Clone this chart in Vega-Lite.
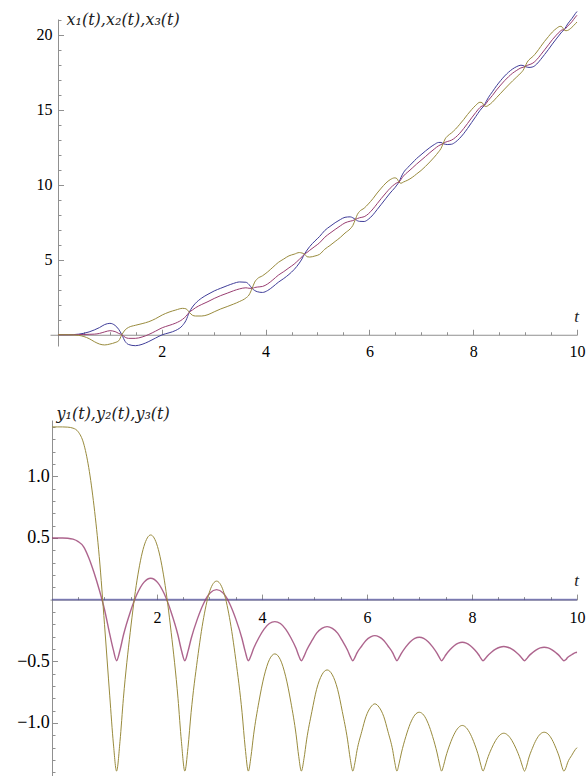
{
  "$schema": "https://vega.github.io/schema/vega-lite/v6.json",
  "background": "white",
  "padding": {"left": 16, "top": 8, "right": 5, "bottom": 0},
  "autosize": {"type": "pad"},
  "bounds": "flush",
  "spacing": 74,
  "config": {"view": {"stroke": null}, "axis": {"grid": false}},
  "resolve": {"scale": {"x": "independent", "y": "independent", "color": "independent", "strokeWidth": "independent", "opacity": "independent"}},
  "datasets": {
    "d": [
      {"t": 0, "x1": 0, "x2": 0, "x3": 0, "y1": 0, "y2": 0.5, "y3": 1.4},
      {"t": 0.1, "x1": 0, "x2": 0, "x3": 0, "y1": 0, "y2": 0.5, "y3": 1.4},
      {"t": 0.2, "x1": 0, "x2": 0, "x3": 0, "y1": 0, "y2": 0.5, "y3": 1.4},
      {"t": 0.3, "x1": 0.01, "x2": 0, "x3": -0.01, "y1": 0, "y2": 0.498, "y3": 1.398},
      {"t": 0.4, "x1": 0.04, "x2": 0.01, "x3": -0.04, "y1": 0, "y2": 0.49, "y3": 1.39},
      {"t": 0.5, "x1": 0.1, "x2": 0.02, "x3": -0.12, "y1": 0, "y2": 0.47, "y3": 1.36},
      {"t": 0.6, "x1": 0.19, "x2": 0.03, "x3": -0.26, "y1": 0, "y2": 0.43, "y3": 1.27},
      {"t": 0.7, "x1": 0.32, "x2": 0.04, "x3": -0.46, "y1": 0, "y2": 0.34, "y3": 1.07},
      {"t": 0.8, "x1": 0.48, "x2": 0.09, "x3": -0.62, "y1": 0, "y2": 0.22, "y3": 0.76},
      {"t": 0.9, "x1": 0.68, "x2": 0.19, "x3": -0.68, "y1": 0, "y2": 0.08, "y3": 0.35},
      {"t": 1.0, "x1": 0.76, "x2": 0.27, "x3": -0.62, "y1": 0, "y2": -0.08, "y3": -0.2},
      {"t": 1.1, "x1": 0.62, "x2": 0.21, "x3": -0.52, "y1": 0, "y2": -0.28, "y3": -0.78},
      {"t": 1.17, "x1": 0.36, "x2": 0.09, "x3": -0.4, "y1": 0, "y2": -0.41, "y3": -1.17},
      {"t": 1.23, "x1": 0, "x2": 0, "x3": 0, "y1": 0, "y2": -0.495, "y3": -1.39},
      {"t": 1.295, "x1": -0.45, "x2": -0.17, "x3": 0.33, "y1": 0, "y2": -0.41, "y3": -1.15},
      {"t": 1.36, "x1": -0.65, "x2": -0.24, "x3": 0.49, "y1": 0, "y2": -0.289, "y3": -0.8},
      {"t": 1.49, "x1": -0.73, "x2": -0.24, "x3": 0.63, "y1": 0, "y2": -0.102, "y3": -0.265},
      {"t": 1.62, "x1": -0.64, "x2": -0.15, "x3": 0.74, "y1": 0, "y2": 0.045, "y3": 0.158},
      {"t": 1.75, "x1": -0.45, "x2": 0.02, "x3": 0.87, "y1": 0, "y2": 0.14, "y3": 0.43},
      {"t": 1.88, "x1": -0.22, "x2": 0.24, "x3": 1.07, "y1": 0, "y2": 0.173, "y3": 0.524},
      {"t": 2.01, "x1": 0, "x2": 0.47, "x3": 1.32, "y1": 0, "y2": 0.14, "y3": 0.43},
      {"t": 2.14, "x1": 0.13, "x2": 0.62, "x3": 1.51, "y1": 0, "y2": 0.045, "y3": 0.158},
      {"t": 2.27, "x1": 0.29, "x2": 0.78, "x3": 1.65, "y1": 0, "y2": -0.102, "y3": -0.265},
      {"t": 2.4, "x1": 0.62, "x2": 1.03, "x3": 1.76, "y1": 0, "y2": -0.289, "y3": -0.8},
      {"t": 2.465, "x1": 0.95, "x2": 1.23, "x3": 1.73, "y1": 0, "y2": -0.41, "y3": -1.15},
      {"t": 2.53, "x1": 1.5, "x2": 1.5, "x3": 1.5, "y1": 0, "y2": -0.495, "y3": -1.39},
      {"t": 2.59, "x1": 1.85, "x2": 1.65, "x3": 1.3, "y1": 0, "y2": -0.42, "y3": -1.2},
      {"t": 2.65, "x1": 2.1, "x2": 1.8, "x3": 1.25, "y1": 0, "y2": -0.317, "y3": -0.914},
      {"t": 2.77, "x1": 2.45, "x2": 2.02, "x3": 1.25, "y1": 0, "y2": -0.156, "y3": -0.485},
      {"t": 2.89, "x1": 2.7, "x2": 2.21, "x3": 1.34, "y1": 0, "y2": -0.029, "y3": -0.144},
      {"t": 3.01, "x1": 2.92, "x2": 2.42, "x3": 1.53, "y1": 0, "y2": 0.053, "y3": 0.075},
      {"t": 3.135, "x1": 3.1, "x2": 2.61, "x3": 1.72, "y1": 0, "y2": 0.081, "y3": 0.15},
      {"t": 3.26, "x1": 3.27, "x2": 2.77, "x3": 1.88, "y1": 0, "y2": 0.053, "y3": 0.075},
      {"t": 3.38, "x1": 3.42, "x2": 2.93, "x3": 2.04, "y1": 0, "y2": -0.029, "y3": -0.144},
      {"t": 3.5, "x1": 3.52, "x2": 3.06, "x3": 2.22, "y1": 0, "y2": -0.156, "y3": -0.485},
      {"t": 3.62, "x1": 3.5, "x2": 3.13, "x3": 2.45, "y1": 0, "y2": -0.317, "y3": -0.914},
      {"t": 3.68, "x1": 3.35, "x2": 3.1, "x3": 2.65, "y1": 0, "y2": -0.42, "y3": -1.2},
      {"t": 3.74, "x1": 3.09, "x2": 3.09, "x3": 3.09, "y1": 0, "y2": -0.495, "y3": -1.39},
      {"t": 3.79, "x1": 2.95, "x2": 3.15, "x3": 3.51, "y1": 0, "y2": -0.455, "y3": -1.272},
      {"t": 3.84, "x1": 2.87, "x2": 3.18, "x3": 3.73, "y1": 0, "y2": -0.397, "y3": -1.096},
      {"t": 3.94, "x1": 2.82, "x2": 3.22, "x3": 3.93, "y1": 0, "y2": -0.309, "y3": -0.831},
      {"t": 4.04, "x1": 2.95, "x2": 3.39, "x3": 4.19, "y1": 0, "y2": -0.239, "y3": -0.621},
      {"t": 4.14, "x1": 3.2, "x2": 3.66, "x3": 4.5, "y1": 0, "y2": -0.194, "y3": -0.487},
      {"t": 4.245, "x1": 3.5, "x2": 3.97, "x3": 4.82, "y1": 0, "y2": -0.178, "y3": -0.44},
      {"t": 4.35, "x1": 3.75, "x2": 4.21, "x3": 5.05, "y1": 0, "y2": -0.194, "y3": -0.487},
      {"t": 4.45, "x1": 4.02, "x2": 4.46, "x3": 5.26, "y1": 0, "y2": -0.239, "y3": -0.621},
      {"t": 4.55, "x1": 4.35, "x2": 4.71, "x3": 5.37, "y1": 0, "y2": -0.309, "y3": -0.831},
      {"t": 4.65, "x1": 4.78, "x2": 5.03, "x3": 5.48, "y1": 0, "y2": -0.397, "y3": -1.096},
      {"t": 4.7, "x1": 5.05, "x2": 5.19, "x3": 5.45, "y1": 0, "y2": -0.455, "y3": -1.272},
      {"t": 4.75, "x1": 5.38, "x2": 5.38, "x3": 5.38, "y1": 0, "y2": -0.495, "y3": -1.39},
      {"t": 4.8, "x1": 5.65, "x2": 5.49, "x3": 5.2, "y1": 0, "y2": -0.46, "y3": -1.289},
      {"t": 4.85, "x1": 5.88, "x2": 5.63, "x3": 5.18, "y1": 0, "y2": -0.41, "y3": -1.137},
      {"t": 4.95, "x1": 6.25, "x2": 5.89, "x3": 5.25, "y1": 0, "y2": -0.333, "y3": -0.908},
      {"t": 5.04, "x1": 6.55, "x2": 6.13, "x3": 5.36, "y1": 0, "y2": -0.272, "y3": -0.727},
      {"t": 5.14, "x1": 6.95, "x2": 6.5, "x3": 5.7, "y1": 0, "y2": -0.233, "y3": -0.61},
      {"t": 5.24, "x1": 7.22, "x2": 6.77, "x3": 5.95, "y1": 0, "y2": -0.219, "y3": -0.57},
      {"t": 5.34, "x1": 7.47, "x2": 7.02, "x3": 6.22, "y1": 0, "y2": -0.233, "y3": -0.61},
      {"t": 5.44, "x1": 7.68, "x2": 7.26, "x3": 6.49, "y1": 0, "y2": -0.272, "y3": -0.727},
      {"t": 5.53, "x1": 7.83, "x2": 7.46, "x3": 6.78, "y1": 0, "y2": -0.333, "y3": -0.908},
      {"t": 5.63, "x1": 7.86, "x2": 7.57, "x3": 7.06, "y1": 0, "y2": -0.41, "y3": -1.137},
      {"t": 5.68, "x1": 7.8, "x2": 7.61, "x3": 7.28, "y1": 0, "y2": -0.46, "y3": -1.289},
      {"t": 5.73, "x1": 7.69, "x2": 7.69, "x3": 7.69, "y1": 0, "y2": -0.495, "y3": -1.39},
      {"t": 5.77, "x1": 7.6, "x2": 7.75, "x3": 8.03, "y1": 0, "y2": -0.468, "y3": -1.322},
      {"t": 5.81, "x1": 7.56, "x2": 7.8, "x3": 8.22, "y1": 0, "y2": -0.432, "y3": -1.222},
      {"t": 5.9, "x1": 7.55, "x2": 7.87, "x3": 8.44, "y1": 0, "y2": -0.376, "y3": -1.07},
      {"t": 5.98, "x1": 7.7, "x2": 8.06, "x3": 8.72, "y1": 0, "y2": -0.331, "y3": -0.949},
      {"t": 6.07, "x1": 8.0, "x2": 8.39, "x3": 9.08, "y1": 0, "y2": -0.302, "y3": -0.872},
      {"t": 6.15, "x1": 8.35, "x2": 8.74, "x3": 9.45, "y1": 0, "y2": -0.292, "y3": -0.845},
      {"t": 6.23, "x1": 8.7, "x2": 9.09, "x3": 9.78, "y1": 0, "y2": -0.302, "y3": -0.872},
      {"t": 6.32, "x1": 9.1, "x2": 9.46, "x3": 10.12, "y1": 0, "y2": -0.331, "y3": -0.949},
      {"t": 6.4, "x1": 9.45, "x2": 9.77, "x3": 10.34, "y1": 0, "y2": -0.376, "y3": -1.07},
      {"t": 6.49, "x1": 9.8, "x2": 10.04, "x3": 10.46, "y1": 0, "y2": -0.432, "y3": -1.222},
      {"t": 6.53, "x1": 9.98, "x2": 10.13, "x3": 10.41, "y1": 0, "y2": -0.468, "y3": -1.322},
      {"t": 6.57, "x1": 10.18, "x2": 10.18, "x3": 10.18, "y1": 0, "y2": -0.495, "y3": -1.39},
      {"t": 6.61, "x1": 10.5, "x2": 10.36, "x3": 10.1, "y1": 0, "y2": -0.47, "y3": -1.331},
      {"t": 6.655, "x1": 10.8, "x2": 10.58, "x3": 10.18, "y1": 0, "y2": -0.436, "y3": -1.243},
      {"t": 6.74, "x1": 11.15, "x2": 10.85, "x3": 10.31, "y1": 0, "y2": -0.383, "y3": -1.11},
      {"t": 6.825, "x1": 11.45, "x2": 11.11, "x3": 10.49, "y1": 0, "y2": -0.341, "y3": -1.004},
      {"t": 6.91, "x1": 11.75, "x2": 11.38, "x3": 10.72, "y1": 0, "y2": -0.314, "y3": -0.936},
      {"t": 6.995, "x1": 12.0, "x2": 11.63, "x3": 10.95, "y1": 0, "y2": -0.305, "y3": -0.913},
      {"t": 7.08, "x1": 12.25, "x2": 11.88, "x3": 11.22, "y1": 0, "y2": -0.314, "y3": -0.936},
      {"t": 7.165, "x1": 12.48, "x2": 12.14, "x3": 11.52, "y1": 0, "y2": -0.341, "y3": -1.004},
      {"t": 7.25, "x1": 12.68, "x2": 12.38, "x3": 11.84, "y1": 0, "y2": -0.383, "y3": -1.11},
      {"t": 7.335, "x1": 12.82, "x2": 12.6, "x3": 12.2, "y1": 0, "y2": -0.436, "y3": -1.243},
      {"t": 7.38, "x1": 12.82, "x2": 12.68, "x3": 12.42, "y1": 0, "y2": -0.47, "y3": -1.331},
      {"t": 7.42, "x1": 12.74, "x2": 12.74, "x3": 12.74, "y1": 0, "y2": -0.495, "y3": -1.39},
      {"t": 7.46, "x1": 12.7, "x2": 12.83, "x3": 13.06, "y1": 0, "y2": -0.476, "y3": -1.343},
      {"t": 7.5, "x1": 12.68, "x2": 12.88, "x3": 13.23, "y1": 0, "y2": -0.449, "y3": -1.276},
      {"t": 7.58, "x1": 12.7, "x2": 12.97, "x3": 13.45, "y1": 0, "y2": -0.407, "y3": -1.172},
      {"t": 7.66, "x1": 12.85, "x2": 13.16, "x3": 13.71, "y1": 0, "y2": -0.374, "y3": -1.091},
      {"t": 7.74, "x1": 13.1, "x2": 13.43, "x3": 14.03, "y1": 0, "y2": -0.353, "y3": -1.038},
      {"t": 7.815, "x1": 13.4, "x2": 13.74, "x3": 14.34, "y1": 0, "y2": -0.346, "y3": -1.02},
      {"t": 7.89, "x1": 13.75, "x2": 14.08, "x3": 14.68, "y1": 0, "y2": -0.353, "y3": -1.038},
      {"t": 7.97, "x1": 14.15, "x2": 14.46, "x3": 15.01, "y1": 0, "y2": -0.374, "y3": -1.091},
      {"t": 8.05, "x1": 14.55, "x2": 14.82, "x3": 15.3, "y1": 0, "y2": -0.407, "y3": -1.172},
      {"t": 8.13, "x1": 14.95, "x2": 15.15, "x3": 15.5, "y1": 0, "y2": -0.449, "y3": -1.276},
      {"t": 8.17, "x1": 15.12, "x2": 15.25, "x3": 15.48, "y1": 0, "y2": -0.476, "y3": -1.343},
      {"t": 8.21, "x1": 15.27, "x2": 15.27, "x3": 15.27, "y1": 0, "y2": -0.495, "y3": -1.39},
      {"t": 8.25, "x1": 15.55, "x2": 15.43, "x3": 15.22, "y1": 0, "y2": -0.48, "y3": -1.35},
      {"t": 8.29, "x1": 15.8, "x2": 15.62, "x3": 15.29, "y1": 0, "y2": -0.459, "y3": -1.295},
      {"t": 8.37, "x1": 16.2, "x2": 15.95, "x3": 15.51, "y1": 0, "y2": -0.427, "y3": -1.209},
      {"t": 8.45, "x1": 16.6, "x2": 16.32, "x3": 15.81, "y1": 0, "y2": -0.402, "y3": -1.142},
      {"t": 8.53, "x1": 16.95, "x2": 16.65, "x3": 16.1, "y1": 0, "y2": -0.386, "y3": -1.098},
      {"t": 8.605, "x1": 17.25, "x2": 16.94, "x3": 16.38, "y1": 0, "y2": -0.38, "y3": -1.083},
      {"t": 8.68, "x1": 17.5, "x2": 17.2, "x3": 16.65, "y1": 0, "y2": -0.386, "y3": -1.098},
      {"t": 8.76, "x1": 17.72, "x2": 17.44, "x3": 16.93, "y1": 0, "y2": -0.402, "y3": -1.142},
      {"t": 8.84, "x1": 17.88, "x2": 17.63, "x3": 17.19, "y1": 0, "y2": -0.427, "y3": -1.209},
      {"t": 8.92, "x1": 17.97, "x2": 17.79, "x3": 17.46, "y1": 0, "y2": -0.459, "y3": -1.295},
      {"t": 8.96, "x1": 17.95, "x2": 17.83, "x3": 17.62, "y1": 0, "y2": -0.48, "y3": -1.35},
      {"t": 9.0, "x1": 17.88, "x2": 17.88, "x3": 17.88, "y1": 0, "y2": -0.495, "y3": -1.39},
      {"t": 9.04, "x1": 17.84, "x2": 17.96, "x3": 18.17, "y1": 0, "y2": -0.48, "y3": -1.35},
      {"t": 9.075, "x1": 17.82, "x2": 18.0, "x3": 18.33, "y1": 0, "y2": -0.461, "y3": -1.293},
      {"t": 9.15, "x1": 17.86, "x2": 18.11, "x3": 18.55, "y1": 0, "y2": -0.431, "y3": -1.205},
      {"t": 9.225, "x1": 18.05, "x2": 18.34, "x3": 18.85, "y1": 0, "y2": -0.407, "y3": -1.135},
      {"t": 9.3, "x1": 18.35, "x2": 18.66, "x3": 19.21, "y1": 0, "y2": -0.391, "y3": -1.09},
      {"t": 9.375, "x1": 18.68, "x2": 18.99, "x3": 19.56, "y1": 0, "y2": -0.386, "y3": -1.075},
      {"t": 9.45, "x1": 19.02, "x2": 19.33, "x3": 19.88, "y1": 0, "y2": -0.391, "y3": -1.09},
      {"t": 9.525, "x1": 19.38, "x2": 19.67, "x3": 20.18, "y1": 0, "y2": -0.407, "y3": -1.135},
      {"t": 9.6, "x1": 19.72, "x2": 19.97, "x3": 20.41, "y1": 0, "y2": -0.431, "y3": -1.205},
      {"t": 9.675, "x1": 20.05, "x2": 20.23, "x3": 20.56, "y1": 0, "y2": -0.461, "y3": -1.293},
      {"t": 9.71, "x1": 20.2, "x2": 20.32, "x3": 20.53, "y1": 0, "y2": -0.48, "y3": -1.35},
      {"t": 9.75, "x1": 20.33, "x2": 20.33, "x3": 20.33, "y1": 0, "y2": -0.495, "y3": -1.39},
      {"t": 9.79, "x1": 20.55, "x2": 20.45, "x3": 20.27, "y1": 0, "y2": -0.485, "y3": -1.362},
      {"t": 9.82, "x1": 20.72, "x2": 20.57, "x3": 20.29, "y1": 0, "y2": -0.47, "y3": -1.323},
      {"t": 9.9, "x1": 21.07, "x2": 20.86, "x3": 20.49, "y1": 0, "y2": -0.447, "y3": -1.262},
      {"t": 9.97, "x1": 21.42, "x2": 21.18, "x3": 20.74, "y1": 0, "y2": -0.43, "y3": -1.214},
      {"t": 10.0, "x1": 21.55, "x2": 21.3, "x3": 20.85, "y1": 0, "y2": -0.427, "y3": -1.2}
    ]
  },
  "vconcat": [
    {
      "width": 527,
      "height": 327,
      "data": {"name": "d"},
      "resolve": {"axis": {"x": "independent", "y": "independent"}},
      "layer": [
        {
          "transform": [{"fold": ["x1", "x2", "x3"], "as": ["series", "value"]}],
          "mark": {"type": "line", "clip": false, "interpolate": "monotone", "strokeWidth": 1},
          "encoding": {
            "x": {
              "field": "t", "type": "quantitative",
              "scale": {"domain": [-0.154, 10], "nice": false, "zero": false},
              "axis": {
                "orient": "bottom", "offset": -11.25, "grid": false,
                "values": [2, 4, 6, 8, 10], "format": "d",
                "tickSize": -5.5, "tickColor": "#909090", "domainColor": "#909090", "tickWidth": 1, "domainWidth": 1,
                "labelFont": "Liberation Serif", "labelFontSize": 16, "labelColor": "#000000",
                "labelBaseline": "middle", "labelPadding": 22.5, "labelFlush": false, "labelOverlap": false,
                "title": "t", "titleFont": "Liberation Serif", "titleFontStyle": "italic", "titleFontWeight": "normal",
                "titleFontSize": 17, "titleColor": "#222222", "titleX": 526, "titleY": -18,
                "titleAlign": "center", "titleBaseline": "middle", "titleAngle": 0
              }
            },
            "y": {
              "field": "value", "type": "quantitative",
              "scale": {"domain": [-0.75, 21.05], "nice": false, "zero": false},
              "axis": {
                "orient": "left", "offset": -8, "grid": false,
                "values": [1, 2, 3, 4, 5, 6, 7, 8, 9, 10, 11, 12, 13, 14, 15, 16, 17, 18, 19, 20, 21],
                "format": "d",
                "labelExpr": "datum.value % 5 === 0 ? datum.label : ''",
                "tickSize": {"condition": {"test": "datum.value % 5 === 0", "value": -5.5}, "value": -3},
                "tickColor": "#909090", "domainColor": "#909090", "tickWidth": 1, "domainWidth": 1,
                "labelFont": "Liberation Serif", "labelFontSize": 16, "labelColor": "#000000",
                "labelBaseline": "middle", "labelPadding": 11.5, "labelFlush": false, "labelOverlap": false,
                "title": "x₁(t),x₂(t),x₃(t)", "titleFont": "DejaVu Serif", "titleFontStyle": "italic", "titleFontWeight": "normal",
                "titleFontSize": 16, "titleColor": "#222222", "titleX": 8, "titleY": 0,
                "titleAlign": "left", "titleBaseline": "middle", "titleAngle": 0
              }
            },
            "color": {
              "field": "series", "type": "nominal",
              "scale": {"domain": ["x1", "x2", "x3"], "range": ["#3F3D99", "#993D71", "#998B3D"]},
              "legend": null
            }
          }
        },
        {
          "mark": {"type": "point", "opacity": 0},
          "encoding": {
            "x": {
              "field": "t", "type": "quantitative",
              "scale": {"domain": [-0.154, 10], "nice": false, "zero": false},
              "axis": {
                "orient": "bottom", "offset": -11.25, "grid": false, "domain": false, "labels": false, "title": null,
                "values": [0.5, 1, 1.5, 2.5, 3, 3.5, 4.5, 5, 5.5, 6.5, 7, 7.5, 8.5, 9, 9.5],
                "tickSize": -3, "tickColor": "#909090", "tickWidth": 1
              }
            },
            "y": {
              "field": "x1", "type": "quantitative",
              "scale": {"domain": [-0.75, 21.05], "nice": false, "zero": false},
              "axis": null
            }
          }
        }
      ]
    },
    {
      "width": 527,
      "height": 358,
      "data": {"name": "d"},
      "resolve": {"axis": {"x": "independent", "y": "independent"}},
      "layer": [
        {
          "transform": [{"fold": ["y1", "y2", "y3"], "as": ["series", "value"]}],
          "mark": {"type": "line", "clip": false, "interpolate": "monotone"},
          "encoding": {
            "x": {
              "field": "t", "type": "quantitative",
              "scale": {"domain": [-0.038, 10], "nice": false, "zero": false},
              "axis": {
                "orient": "bottom", "offset": -178.4, "grid": false,
                "values": [2, 4, 6, 8, 10], "format": "d",
                "tickSize": -5.5, "tickColor": "#909090", "domainColor": "#909090", "tickWidth": 1, "domainWidth": 1,
                "labelFont": "Liberation Serif", "labelFontSize": 16, "labelColor": "#000000",
                "labelBaseline": "middle", "labelPadding": 23.2, "labelFlush": false, "labelOverlap": false,
                "title": "t", "titleFont": "Liberation Serif", "titleFontStyle": "italic", "titleFontWeight": "normal",
                "titleFontSize": 17, "titleColor": "#222222", "titleX": 526, "titleY": -19,
                "titleAlign": "center", "titleBaseline": "middle", "titleAngle": 0
              }
            },
            "y": {
              "field": "value", "type": "quantitative",
              "scale": {"domain": [-1.446, 1.456], "nice": false, "zero": false},
              "axis": {
                "orient": "left", "offset": -2, "grid": false,
                "values": [-1.4, -1.3, -1.2, -1.1, -1, -0.9, -0.8, -0.7, -0.6, -0.5, -0.4, -0.3, -0.2, -0.1, 0.1, 0.2, 0.3, 0.4, 0.5, 0.6, 0.7, 0.8, 0.9, 1, 1.1, 1.2, 1.3, 1.4],
                "format": ".1f",
                "labelExpr": "(abs(datum.value) === 0.5 || abs(datum.value) === 1) ? datum.label : ''",
                "tickSize": {"condition": {"test": "abs(datum.value) === 0.5 || abs(datum.value) === 1", "value": -5.5}, "value": -3},
                "tickColor": "#909090", "domainColor": "#909090", "tickWidth": 1, "domainWidth": 1,
                "labelFont": "Liberation Serif", "labelFontSize": 18, "labelColor": "#000000",
                "labelBaseline": "middle", "labelPadding": 8.2, "labelFlush": false, "labelOverlap": false,
                "title": "y₁(t),y₂(t),y₃(t)", "titleFont": "DejaVu Serif", "titleFontStyle": "italic", "titleFontWeight": "normal",
                "titleFontSize": 16, "titleColor": "#222222", "titleX": 4, "titleY": -7,
                "titleAlign": "left", "titleBaseline": "middle", "titleAngle": 0
              }
            },
            "color": {
              "field": "series", "type": "nominal",
              "scale": {"domain": ["y1", "y2", "y3"], "range": ["#3F3D99", "#993D71", "#998B3D"]},
              "legend": null
            },
            "strokeWidth": {
              "field": "series", "type": "nominal",
              "scale": {"domain": ["y1", "y2", "y3"], "range": [1.8, 1, 1]},
              "legend": null
            },
            "opacity": {
              "field": "series", "type": "nominal",
              "scale": {"domain": ["y1", "y2", "y3"], "range": [0.6, 1, 1]},
              "legend": null
            }
          }
        },
        {
          "mark": {"type": "point", "opacity": 0},
          "encoding": {
            "x": {
              "field": "t", "type": "quantitative",
              "scale": {"domain": [-0.038, 10], "nice": false, "zero": false},
              "axis": {
                "orient": "bottom", "offset": -178.4, "grid": false, "domain": false, "labels": false, "title": null,
                "values": [0.5, 1, 1.5, 2.5, 3, 3.5, 4.5, 5, 5.5, 6.5, 7, 7.5, 8.5, 9, 9.5],
                "tickSize": -3, "tickColor": "#909090", "tickWidth": 1
              }
            },
            "y": {
              "field": "y2", "type": "quantitative",
              "scale": {"domain": [-1.446, 1.456], "nice": false, "zero": false},
              "axis": null
            }
          }
        }
      ]
    }
  ]
}
